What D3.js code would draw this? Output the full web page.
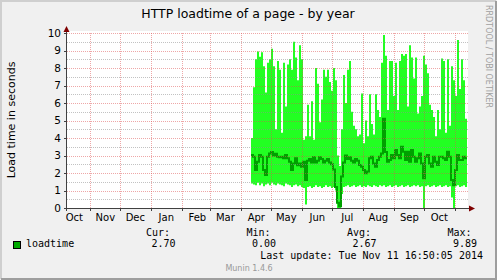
<!DOCTYPE html>
<html lang="en">
<head>
<meta charset="UTF-8">
<title>HTTP loadtime of a page - by year</title>
<style>
  body { margin: 0; background: #f0f0f0; }
  svg { display: block; }
</style>
</head>
<body>
<script src="https://d3js.org/d3.v7.min.js"></script>
<div id="svg"></div>
<script>
// one value every 2 days, first one on 10 Apr 2014
const maxVals = [4.0, 6.9, 8.5, 8.95, 8.65, 8.9, 8.1, 6.6, 8.3, 8.5, 9.1, 8.1, 4.5, 8.4, 7.9, 4.3, 8.3, 5.8, 8.2, 8.5, 7.9, 9.5, 8.6, 7.3, 9.3, 8.5, 3.9,
  4.1, 5.9, 4.1, 6.1, 3.9, 8.0, 7.1, 4.9, 6.2, 7.9, 7.5, 7.9, 7.2, 6.7, 8.0, 7.3, 3.0, 2.4, 4.5, 7.6, 6.0, 7.9, 8.4, 5.5, 4.7, 4.5, 4.1, 4.2,
  6.55, 3.7, 5.0, 4.1, 6.5, 4.8, 4.2, 6.5, 5.6, 5.2, 8.3, 9.89, 8.7, 5.6, 8.4, 8.4, 6.4, 8.3, 5.6, 8.4, 8.8, 8.7, 8.8, 5.8, 9.3, 8.6,
  7.4, 8.6, 5.4, 5.8, 6.4, 8.7, 8.2, 7.7, 5.9, 5.6, 5.2, 4.1, 5.6, 4.5, 8.55, 8.4, 4.3, 8.5, 4.7, 8.1, 7.3, 6.4, 9.6, 6.8, 8.5, 7.3, 5.1];
const minVals = [1.4, 1.35, 1.3, 1.45, 1.3, 1.4, 1.25, 1.35, 1.4, 1.3, 1.45, 1.35, 1.3, 1.4, 1.35, 1.3, 1.25, 1.4, 1.35, 1.3, 1.2, 1.3, 1.35, 1.25, 1.3, 1.2, 1.15,
  0.2, 1.2, 1.25, 1.15, 1.2, 1.3, 1.2, 1.25, 1.15, 1.2, 1.3, 1.2, 1.25, 1.15, 1.2, 1.0, 0.0, 0.0, 0.8, 1.2, 1.25, 1.3, 1.2, 1.25, 1.3, 1.2, 1.25, 1.3,
  1.2, 1.25, 1.2, 1.3, 1.25, 1.2, 1.3, 1.25, 1.2, 1.3, 1.25, 1.3, 1.2, 1.25, 1.3, 1.2, 1.25, 1.3, 1.2, 1.25, 1.3, 1.2, 1.25, 1.3, 1.2, 1.25,
  1.3, 1.25, 1.3, 1.2, 1.25, 0.0, 1.25, 1.3, 1.2, 1.25, 1.3, 1.2, 1.25, 1.3, 1.2, 1.25, 1.3, 1.2, 1.25, 0.6, 0.0, 1.25, 1.3, 1.2, 1.25, 1.3, 1.2];
const avgVals = [3.03, 2.93, 2.17, 2.65, 3.03, 2.93, 2.17, 1.89, 2.93, 3.12, 3.2, 3.0, 3.1, 2.93, 2.9, 2.93, 2.84, 3.03, 2.84, 2.65, 2.17, 2.55, 2.84, 2.45, 2.55, 2.36, 2.65,
  1.6, 2.7, 2.8, 2.6, 2.9, 2.6, 2.7, 2.9, 2.8, 2.6, 2.7, 2.8, 2.6, 2.5, 2.2, 1.2, 0.3, 0.1, 1.8, 2.6, 3.0, 2.8, 2.9, 2.7, 2.6, 2.8, 2.7, 2.46,
  2.36, 2.17, 1.98, 2.08, 2.84, 2.93, 2.55, 2.36, 2.74, 2.93, 3.12, 5.1, 3.2, 2.65, 2.74, 3.03, 2.84, 3.31, 3.03, 2.84, 3.5, 3.22, 2.74, 3.22, 2.65, 3.31,
  2.93, 2.65, 2.84, 3.12, 2.55, 1.7, 2.93, 3.03, 2.55, 2.36, 2.93, 2.65, 2.46, 2.93, 2.93, 2.84, 2.74, 3.22, 2.93, 1.6, 1.3, 2.17, 3.03, 2.74, 2.74, 2.93, 2.84];
const yTicks = [0, 1, 2, 3, 4, 5, 6, 7, 8, 9, 10];
const yMinorTicks = [0.5, 1.5, 2.5, 3.5, 4.5, 5.5, 6.5, 7.5, 8.5, 9.5];
const legendHeads = ["Cur:", "Min:", "Avg:", "Max:"];
const legendValues = ["2.70", "0.00", "2.67", "9.89"];
const seriesName = "loadtime";

const graphStart = new Date(2013, 9, 8, 16, 0);
const graphEnd = new Date(2014, 10, 12, 16, 0);
const dataStart = new Date(2014, 3, 10, 16, 0);
const stepDays = 2;

const width = 497, height = 280;
const plot = { left: 67, right: 467, top: 33, bottom: 208 };

const data = maxVals.map((v, i) => ({
  date: d3.timeDay.offset(dataStart, i * stepDays), max: v, min: minVals[i], avg: avgVals[i]
}));
// closing point so the last step has a width
data.push(Object.assign({}, data[data.length - 1], { date: d3.timeDay.offset(dataStart, maxVals.length * stepDays) }));

const x = d3.scaleTime().domain([graphStart, graphEnd]).range([plot.left, plot.right]);
const y = d3.scaleLinear().domain([0, 10]).range([plot.bottom, plot.top]);
const px = v => Math.round(v) + 0.5;

const svg = d3.select("#svg").append("svg").attr("width", width).attr("height", height)
  .style("font-family", "'DejaVu Sans', sans-serif");

// background + 3d frame
svg.append("rect").attr("width", width).attr("height", height).attr("fill", "#f0f0f0");
svg.append("path").attr("d", `M1,${height - 1}V1H${width - 1}`).attr("stroke", "#cfcfcf").attr("stroke-width", 2).attr("fill", "none");
svg.append("path").attr("d", `M1,${height - 1}H${width - 1}V1`).attr("stroke", "#9e9e9e").attr("stroke-width", 2).attr("fill", "none");

// canvas
svg.append("rect").attr("x", plot.left).attr("y", plot.top - 2)
  .attr("width", plot.right - plot.left + 1).attr("height", plot.bottom - plot.top + 2).attr("fill", "#fff");

// min..max band and average line
const band = d3.area().curve(d3.curveStepAfter)
  .x(d => x(d.date)).y0(d => y(d.min)).y1(d => y(d.max));
svg.append("path").datum(data).attr("d", band).attr("fill", "#22ff22");

const avgLine = d3.line().curve(d3.curveStepAfter).x(d => x(d.date)).y(d => y(d.avg));
svg.append("path").datum(data).attr("d", avgLine)
  .attr("fill", "none").attr("stroke", "#00a000").attr("stroke-width", 2);

// grid
const grid = svg.append("g").attr("stroke-dasharray", "1,1").attr("fill", "none");
grid.selectAll(".minor").data(yMinorTicks).enter().append("line")
  .attr("x1", plot.left).attr("x2", plot.right + 1)
  .attr("y1", d => px(y(d))).attr("y2", d => px(y(d)))
  .attr("stroke", "rgba(143,143,143,0.55)");
grid.selectAll(".major").data(yTicks.filter(d => d > 0)).enter().append("line")
  .attr("x1", plot.left).attr("x2", plot.right + 1)
  .attr("y1", d => px(y(d))).attr("y2", d => px(y(d)))
  .attr("stroke", "rgba(222,80,80,0.5)");
const months = d3.timeMonth.range(d3.timeMonth.ceil(graphStart), graphEnd);
grid.selectAll(".vmajor").data(months).enter().append("line")
  .attr("x1", d => px(x(d))).attr("x2", d => px(x(d)))
  .attr("y1", plot.top).attr("y2", plot.bottom)
  .attr("stroke", "rgba(222,80,80,0.5)");

// axes
const axisColor = "#404040";
svg.append("line").attr("x1", plot.left - 3).attr("x2", plot.right + 3)
  .attr("y1", plot.bottom + 0.5).attr("y2", plot.bottom + 0.5).attr("stroke", axisColor);
svg.append("line").attr("x1", plot.left - 0.5).attr("x2", plot.left - 0.5)
  .attr("y1", plot.bottom + 3).attr("y2", plot.top - 5).attr("stroke", axisColor);
svg.selectAll(".ytick").data(yTicks).enter().append("line")
  .attr("x1", plot.left - 3).attr("x2", plot.left)
  .attr("y1", d => px(y(d))).attr("y2", d => px(y(d))).attr("stroke", axisColor);
svg.selectAll(".xtick").data(months).enter().append("line")
  .attr("x1", d => px(x(d))).attr("x2", d => px(x(d)))
  .attr("y1", plot.bottom).attr("y2", plot.bottom + 3).attr("stroke", axisColor);
svg.append("path").attr("d", `M${plot.left - 3.5},${plot.top - 1}L${plot.left + 2.5},${plot.top - 1}L${plot.left - 0.5},${plot.top - 7}Z`)
  .attr("fill", "#7f0000");
svg.append("path").attr("d", `M${plot.right + 2},${plot.bottom - 2.5}L${plot.right + 2},${plot.bottom + 3.5}L${plot.right + 8},${plot.bottom + 0.5}Z`)
  .attr("fill", "#7f0000");

// tick labels
svg.selectAll(".ylab").data(yTicks).enter().append("text")
  .attr("x", plot.left - 6).attr("y", d => y(d)).attr("dy", "0.36em")
  .attr("text-anchor", "end").style("font-size", "10.5px").text(d => d);
const fmt = d3.timeFormat("%b");
svg.selectAll(".xlab").data(d3.timeMonth.range(d3.timeMonth.floor(graphStart), graphEnd)
    .filter(d => x(d3.timeDay.offset(d, 15)) > plot.left && x(d3.timeDay.offset(d, 15)) < plot.right))
  .enter().append("text")
  .attr("x", d => x(d3.timeDay.offset(d, 15))).attr("y", plot.bottom + 12.5)
  .attr("text-anchor", "middle").style("font-size", "10px").text(d => fmt(d));

// titles
svg.append("text").attr("x", 248).attr("y", 17.5).attr("text-anchor", "middle")
  .style("font-size", "12.5px").text("HTTP loadtime of a page - by year");
svg.append("text").attr("transform", "translate(15,120) rotate(-90)").attr("text-anchor", "middle")
  .style("font-size", "11px").text("Load time in seconds");
svg.append("text").attr("transform", "translate(486,5) rotate(90)")
  .attr("fill", "#a0a0a0").style("font-size", "8px").text("RRDTOOL / TOBI OETIKER");

// legend
const mono = "'DejaVu Sans Mono', monospace";
const headX = [146, 246.5, 347, 447.5];
const legend = svg.append("g").style("font-family", mono).style("font-size", "10px");
legend.selectAll(".head").data(legendHeads).enter().append("text")
  .attr("x", (d, i) => headX[i]).attr("y", 236).text(d => d);
legend.selectAll(".val").data(legendValues).enter().append("text")
  .attr("x", (d, i) => headX[i] + 5.5).attr("y", 247).text(d => d);
legend.append("rect").attr("x", 13.5).attr("y", 241.5).attr("width", 7).attr("height", 7)
  .attr("fill", "#00aa00").attr("stroke", "#000");
legend.append("text").attr("x", 26).attr("y", 247).text(seriesName);
legend.append("text").attr("x", 483).attr("y", 259).attr("text-anchor", "end")
  .text("Last update: Tue Nov 11 16:50:05 2014");

svg.append("text").attr("x", 249).attr("y", 271).attr("text-anchor", "middle")
  .attr("fill", "#999").style("font-size", "8px").text("Munin 1.4.6");
</script>
</body>
</html>
